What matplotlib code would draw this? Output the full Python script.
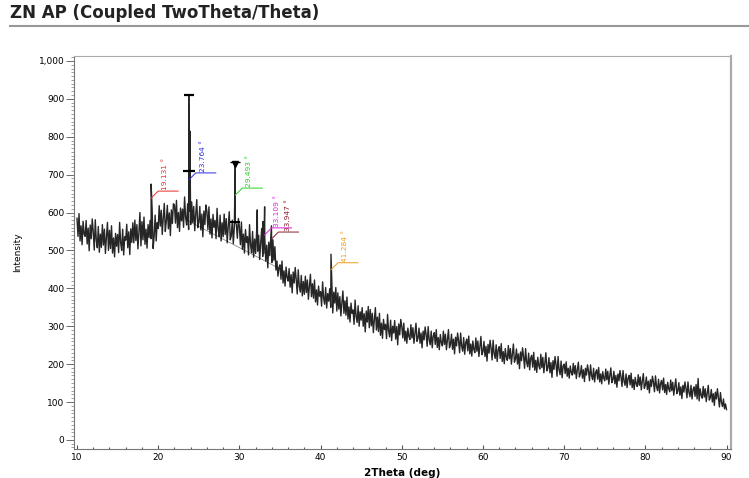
import numpy as np
import matplotlib.pyplot as plt
from matplotlib.lines import Line2D
from matplotlib.ticker import MultipleLocator, FuncFormatter

# scan grid (deg) and counts read at each step, one row per degree
step = 0.125
two_theta = np.arange(10, 90 + step / 2, step)
counts = [
    585, 537, 597, 525, 565, 515, 577, 543,
    537, 579, 517, 559, 499, 567, 531, 583,
    549, 501, 581, 527, 507, 563, 495, 543,
    508, 568, 514, 556, 492, 536, 574, 500,
    553, 505, 565, 493, 533, 483, 545, 511,
    542, 494, 574, 520, 500, 556, 488, 536,
    527, 569, 507, 549, 489, 557, 521, 573,
    520, 580, 526, 568, 504, 548, 600, 512,
    576, 528, 588, 516, 556, 506, 568, 534,
    579, 531, 611, 505, 537, 593, 525, 573,
    558, 618, 564, 606, 542, 586, 624, 550,
    577, 619, 557, 599, 539, 607, 571, 623,
    620, 572, 632, 560, 600, 550, 612, 578,
    609, 561, 641, 587, 567, 623, 555, 603,
    568, 628, 574, 616, 552, 596, 634, 560,
    574, 616, 554, 596, 536, 604, 568, 620,
    603, 555, 615, 543, 583, 533, 595, 561,
    579, 531, 611, 557, 537, 593, 525, 573,
    536, 596, 542, 584, 520, 564, 602, 528,
    538, 580, 518, 560, 575, 568, 532, 584,
    563, 515, 575, 503, 543, 493, 555, 521,
    536, 488, 568, 514, 494, 550, 482, 530,
    492, 552, 498, 540, 476, 520, 558, 484,
    492, 534, 472, 514, 454, 522, 486, 538,
    468, 528, 474, 510, 448, 472, 432, 455,
    462, 424, 472, 414, 446, 406, 456, 429,
    419, 452, 403, 436, 388, 443, 414, 455,
    423, 385, 449, 406, 390, 434, 380, 418,
    384, 432, 389, 422, 371, 406, 437, 378,
    412, 374, 422, 364, 396, 356, 406, 379,
    391, 353, 417, 374, 358, 402, 348, 386,
    366, 399, 350, 425, 335, 390, 361, 402,
    340, 388, 345, 378, 327, 362, 393, 334,
    367, 329, 377, 319, 351, 311, 361, 334,
    343, 305, 369, 326, 310, 354, 300, 338,
    316, 349, 300, 333, 285, 340, 311, 352,
    296, 344, 301, 334, 283, 318, 349, 290,
    324, 286, 334, 276, 308, 268, 318, 291,
    305, 267, 331, 288, 272, 316, 262, 300,
    282, 315, 266, 299, 251, 306, 277, 318,
    300, 269, 308, 261, 287, 255, 295, 273,
    265, 304, 269, 296, 255, 283, 308, 260,
    268, 295, 255, 282, 243, 287, 264, 298,
    278, 247, 299, 264, 251, 287, 243, 274,
    283, 252, 291, 244, 270, 238, 278, 256,
    248, 287, 252, 279, 238, 266, 291, 243,
    252, 279, 239, 266, 227, 271, 248, 282,
    261, 230, 282, 247, 234, 270, 226, 257,
    266, 235, 274, 227, 253, 221, 261, 239,
    230, 269, 234, 261, 220, 248, 273, 225,
    233, 260, 220, 247, 208, 252, 229, 263,
    242, 211, 263, 228, 215, 251, 207, 238,
    246, 215, 254, 207, 233, 201, 241, 219,
    210, 249, 214, 241, 200, 228, 253, 205,
    213, 240, 200, 227, 188, 232, 209, 243,
    220, 189, 241, 206, 193, 229, 185, 216,
    223, 192, 231, 184, 210, 178, 218, 196,
    187, 226, 191, 218, 177, 205, 230, 182,
    190, 217, 177, 204, 165, 209, 186, 220,
    199, 168, 220, 185, 172, 208, 164, 195,
    200, 175, 206, 168, 189, 163, 195, 178,
    171, 202, 174, 196, 162, 185, 205, 166,
    174, 196, 163, 185, 154, 189, 171, 198,
    181, 156, 198, 170, 159, 189, 153, 178,
    185, 160, 191, 153, 174, 148, 180, 163,
    156, 187, 159, 181, 147, 170, 190, 151,
    159, 181, 148, 170, 139, 174, 156, 183,
    166, 141, 183, 155, 144, 174, 138, 163,
    170, 145, 176, 138, 159, 133, 165, 148,
    141, 172, 144, 166, 132, 155, 175, 136,
    144, 166, 133, 155, 124, 159, 141, 168,
    152, 127, 169, 141, 130, 160, 124, 149,
    157, 132, 163, 125, 146, 120, 152, 135,
    127, 158, 130, 152, 118, 141, 161, 122,
    129, 151, 118, 140, 109, 144, 126, 153,
    136, 111, 153, 125, 114, 144, 108, 133,
    140, 115, 146, 108, 162, 103, 135, 118,
    110, 141, 113, 135, 101, 124, 144, 105,
    111, 133, 100, 122, 91, 126, 108, 135,
    112, 87, 125, 99, 88, 108, 82, 95,
    80,
]

# sharp reflections between grid steps
peak_pos = [19.131, 23.764, 23.90, 29.493, 32.2, 32.9, 33.109, 33.947, 41.284]
peak_counts = [675, 910, 815, 728, 607, 576, 615, 565, 490]

# peak-search labels
label_pos = [19.131, 23.764, 29.493, 33.109, 33.947, 41.284]
label_at = [638, 686, 646, 541, 530, 449]
label_colors = ["#e8302a", "#2b2be0", "#22d022", "#e020e0", "#8b1a2a", "#f09a20"]
label_dx = [14, 14, 14, 12, 17, 14]

# background segment under the main hump
bg_pos = [23.5, 34.6]
bg_counts = [580, 456]

x = np.concatenate([two_theta, peak_pos])
y = np.concatenate([counts, peak_counts])
order = np.argsort(x)
x, y = x[order], y[order]

fig = plt.figure(figsize=(7.49, 4.78), dpi=100)
ax = fig.add_axes([74 / 749, 1 - 449 / 478, 657 / 749, 393 / 478])

ax.plot(bg_pos, bg_counts, color="#888888", lw=0.6)
ax.plot(x, y, color="black", lw=1.0, alpha=0.85)

# peak markers
ax.plot(23.764, 910, marker="_", ms=7, mew=1.6, color="black")
ax.plot(23.764, 710, marker="_", ms=8, mew=1.6, color="black")
ax.plot(29.493, 728, marker="v", ms=4, color="black")
ax.plot(29.493, 734, marker="_", ms=7, mew=1.0, color="black")
ax.plot(29.493, 575, marker="_", ms=7, mew=1.4, color="black")

ax.set_xlim(9.63, 90.55)
ax.set_ylim(-24, 1013)

ax.xaxis.set_major_locator(MultipleLocator(10))
ax.xaxis.set_minor_locator(MultipleLocator(2))
ax.yaxis.set_major_locator(MultipleLocator(100))
ax.yaxis.set_minor_locator(MultipleLocator(10))
ax.yaxis.set_major_formatter(FuncFormatter(lambda v, p: f"{v:,.0f}"))

ax.tick_params(axis="x", which="major", direction="in", length=3, width=0.8,
               labelsize=6.5, pad=3, color="#555555")
ax.tick_params(axis="x", which="minor", direction="in", length=1.5, width=0.8,
               color="#555555")
ax.tick_params(axis="y", which="major", direction="out", length=6, width=0.6,
               labelsize=6.5, pad=1, color="#555555")
ax.tick_params(axis="y", which="minor", direction="out", length=2.5, width=0.5,
               color="#777777")
for s in ax.spines.values():
    s.set_color("#aaaaaa")
    s.set_linewidth(0.8)
ax.spines["left"].set_color("#777777")
ax.spines["bottom"].set_color("#777777")
ax.spines["right"].set_linewidth(1.6)

ax.set_xlabel("2Theta (deg)", fontsize=7.5, fontweight="bold", labelpad=4)
ax.set_ylabel("Intensity", fontsize=6.5, labelpad=12)

# leader lines and rotated peak labels, laid out in pixels
fig.canvas.draw()
to_px = ax.transData
to_data = ax.transData.inverted()
for p, v, c, dx in zip(label_pos, label_at, label_colors, label_dx):
    x0, y0 = to_px.transform((p, v))
    pts = np.array([[x0, y0], [x0 + 7, y0 + 7], [x0 + 27, y0 + 7]])
    d = to_data.transform(pts)
    ax.plot(d[:, 0], d[:, 1], color=c, lw=0.7, clip_on=False)
    tx, ty = to_data.transform((x0 + dx, y0 + 8))
    ax.text(tx, ty, f"{p:.3f} °", color=c, fontsize=5.3, rotation=90,
            ha="center", va="bottom")

fig.text(10 / 749, 1 - 13 / 478, "ZN AP (Coupled TwoTheta/Theta)",
         fontsize=12, fontweight="bold", color="#222222",
         va="center", ha="left")
fig.add_artist(Line2D([10 / 749, 1], [1 - 26 / 478] * 2,
                      transform=fig.transFigure, color="#999999", lw=1.5))

fig.savefig("out.png", dpi=100)
